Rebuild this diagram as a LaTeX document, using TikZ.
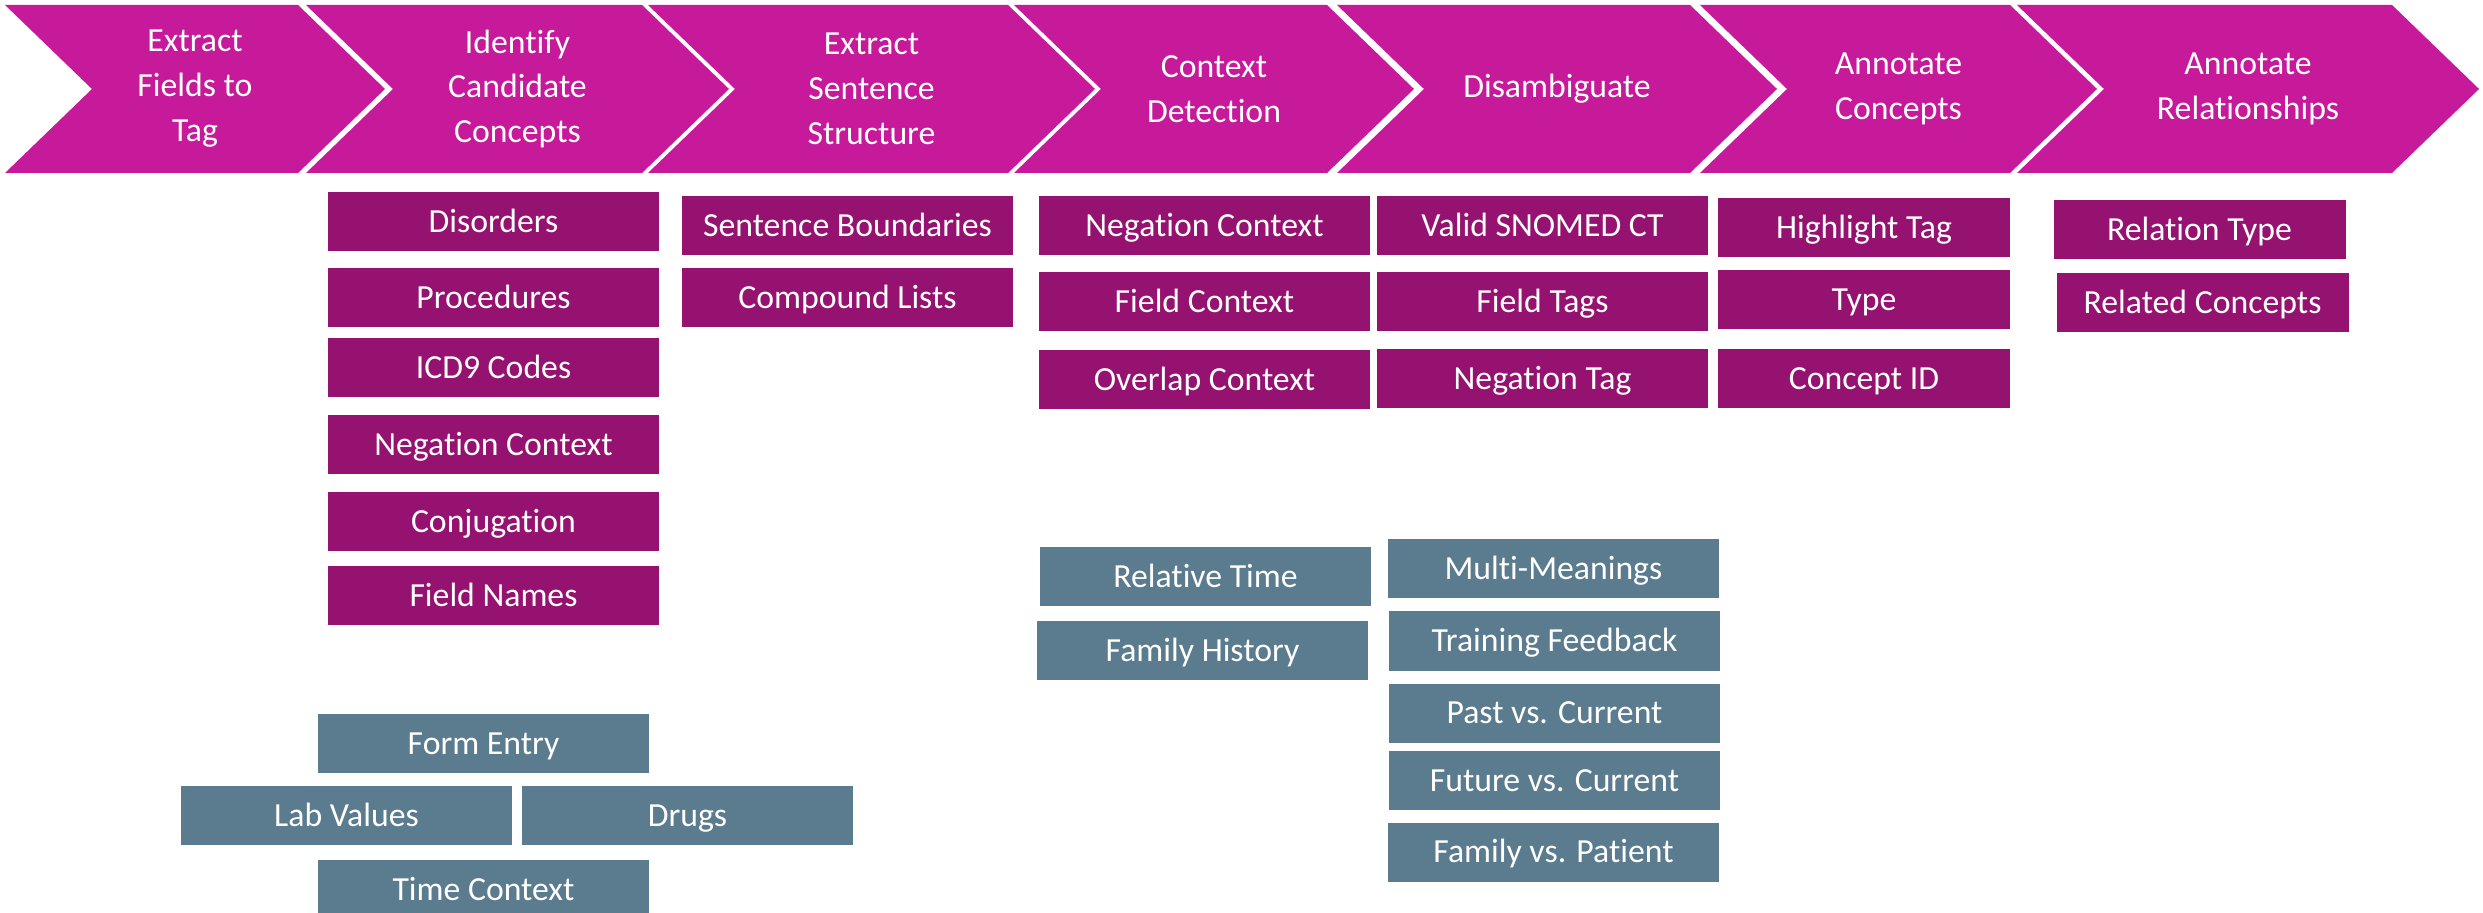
\documentclass[tikz,border=0pt]{standalone}
\usepackage{fontspec}
\setmainfont{Carlito}[RawFeature=-liga]
\usepackage{tikz}

\definecolor{stage_magenta}{HTML}{C71A9A}
\definecolor{task_purple}{HTML}{961270}
\definecolor{extra_slate}{HTML}{5B7B8E}

\begin{document}
\begin{tikzpicture}[font=\fontsize{9.6}{12.8}\selectfont]

	\tikzstyle{stage_node}=[text=white, align=center]
	\tikzstyle{stage_arrow}=[fill=stage_magenta]
	\tikzstyle{task_node}=[rectangle, fill=task_purple, text=white, minimum width=33.1mm, minimum height=5.9mm, inner sep=0pt, text height=2.9mm, text depth=0.72mm]
	\tikzstyle{short_task_node}=[task_node, minimum width=29.2mm]
	\tikzstyle{extra_node}=[task_node, fill=extra_slate]

	\useasboundingbox (0, 0) rectangle (24.83, -9.13);

	% pipeline stages
	\fill[stage_arrow] (0.05, -0.05) -- (2.98, -0.05) -- (3.85, -0.89) -- (2.98, -1.73) -- (0.05, -1.73) -- (0.92, -0.89) -- cycle;
	\fill[stage_arrow] (3.06, -0.05) -- (6.42, -0.05) -- (7.29, -0.89) -- (6.42, -1.73) -- (3.06, -1.73) -- (3.93, -0.89) -- cycle;
	\fill[stage_arrow] (6.48, -0.05) -- (10.08, -0.05) -- (10.95, -0.89) -- (10.08, -1.73) -- (6.48, -1.73) -- (7.35, -0.89) -- cycle;
	\fill[stage_arrow] (10.14, -0.05) -- (13.27, -0.05) -- (14.14, -0.89) -- (13.27, -1.73) -- (10.14, -1.73) -- (11.01, -0.89) -- cycle;
	\fill[stage_arrow] (13.37, -0.05) -- (16.90, -0.05) -- (17.77, -0.89) -- (16.90, -1.73) -- (13.37, -1.73) -- (14.24, -0.89) -- cycle;
	\fill[stage_arrow] (17.00, -0.05) -- (20.10, -0.05) -- (20.97, -0.89) -- (20.10, -1.73) -- (17.00, -1.73) -- (17.87, -0.89) -- cycle;
	\fill[stage_arrow] (20.17, -0.05) -- (23.92, -0.05) -- (24.79, -0.89) -- (23.92, -1.73) -- (20.17, -1.73) -- (21.04, -0.89) -- cycle;

	\node[stage_node] at (1.95, -0.89) (extract_fields) {Extract\\ Fields to\\ Tag};
	\node[stage_node] at (5.175, -0.89) (identify_concepts) {Identify\\ Candidate\\ Concepts};
	\node[stage_node] at (8.715, -0.89) (extract_structure) {Extract\\ Sentence\\ Structure};
	\node[stage_node] at (12.14, -0.89) (context_detection) {Context\\ Detection};
	\node[stage_node] at (15.57, -0.89) (disambiguate) {Disambiguate};
	\node[stage_node] at (18.985, -0.89) (annotate_concepts) {Annotate\\ Concepts};
	\node[stage_node] at (22.48, -0.89) (annotate_relationships) {Annotate\\ Relationships};

	% tasks per stage
	\node[task_node] at (4.935, -2.215) (disorders) {Disorders};
	\node[task_node] at (4.935, -2.975) (procedures) {Procedures};
	\node[task_node] at (4.935, -3.675) (icd9_codes) {ICD9 Codes};
	\node[task_node] at (4.935, -4.445) (candidate_negation) {Negation Context};
	\node[task_node] at (4.935, -5.215) (conjugation) {Conjugation};
	\node[task_node] at (4.935, -5.955) (field_names) {Field Names};

	\node[task_node] at (8.475, -2.255) (sentence_boundaries) {Sentence Boundaries};
	\node[task_node] at (8.475, -2.975) (compound_lists) {Compound Lists};

	\node[task_node] at (12.045, -2.255) (negation_context) {Negation Context};
	\node[task_node] at (12.045, -3.02) (field_context) {Field Context};
	\node[task_node] at (12.045, -3.795) (overlap_context) {Overlap Context};

	\node[task_node] at (15.425, -2.255) (valid_snomed) {Valid SNOMED CT};
	\node[task_node] at (15.425, -3.02) (field_tags) {Field Tags};
	\node[task_node] at (15.425, -3.785) (negation_tag) {Negation Tag};

	\node[short_task_node] at (18.64, -2.28) (highlight_tag) {Highlight Tag};
	\node[short_task_node] at (18.64, -2.995) (concept_type) {Type};
	\node[short_task_node] at (18.64, -3.785) (concept_id) {Concept ID};

	\node[short_task_node] at (21.995, -2.295) (relation_type) {Relation Type};
	\node[short_task_node] at (22.025, -3.025) (related_concepts) {Related Concepts};

	% additional items
	\node[extra_node] at (4.835, -7.435) (form_entry) {Form Entry};
	\node[extra_node] at (3.465, -8.155) (lab_values) {Lab Values};
	\node[extra_node] at (6.875, -8.155) (drugs) {Drugs};
	\node[extra_node] at (4.835, -8.895) (time_context) {Time Context};

	\node[extra_node] at (12.055, -5.77) (relative_time) {Relative Time};
	\node[extra_node] at (12.025, -6.505) (family_history) {Family History};

	\node[extra_node] at (15.535, -5.69) (multi_meanings) {Multi-Meanings};
	\node[extra_node] at (15.545, -6.41) (training_feedback) {Training Feedback};
	\node[extra_node] at (15.545, -7.13) (past_current) {Past vs. Current};
	\node[extra_node] at (15.545, -7.805) (future_current) {Future vs. Current};
	\node[extra_node] at (15.535, -8.52) (family_patient) {Family vs. Patient};
\end{tikzpicture}
\end{document}
